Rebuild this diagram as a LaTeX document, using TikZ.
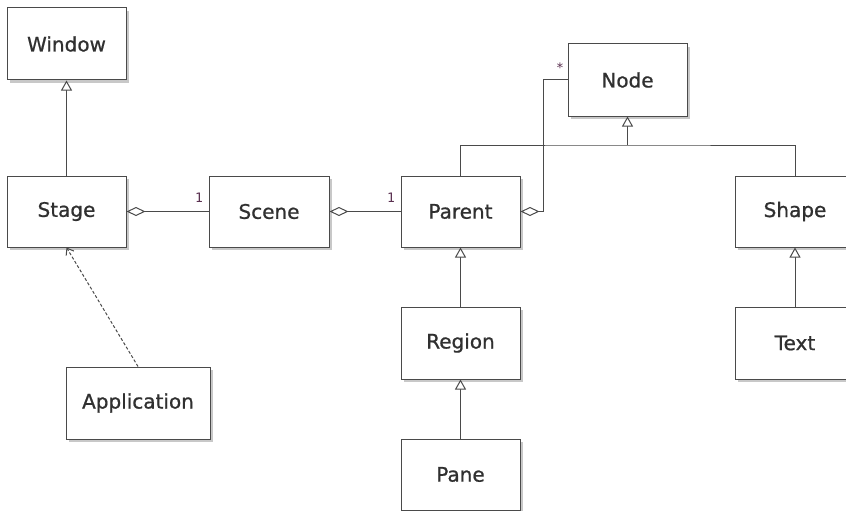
\documentclass[tikz,border=0pt]{standalone}
\usepackage{fontspec}
\setmainfont{DejaVu Sans}
\newfontfamily\clsfont[FakeBold=0.8]{DejaVu Sans}
\newfontfamily\labfont{DejaVu Sans Mono}
\usetikzlibrary{arrows.meta,calc}
\definecolor{boxline}{HTML}{4A4A4A}
\definecolor{shadowc}{HTML}{C8C8C8}
\definecolor{txt}{HTML}{303030}
\definecolor{labc}{HTML}{5A3050}
\tikzset{
  cls/.style={draw=boxline, line width=1pt, fill=white, minimum width=119pt, minimum height=72pt,
    inner sep=0pt, text=txt, font=\clsfont\fontsize{20}{24}\selectfont},
  conn/.style={draw=boxline, line width=1pt},
  gen/.style={conn, -{Triangle[open, length=10pt, width=11pt, fill=white]}},
  agg/.style={conn, {Diamond[open, length=19pt, width=9pt, fill=white]}-},
  dep/.style={conn, dashed, dash pattern=on 3pt off 2pt, -{Straight Barb[length=6pt, width=9pt]}},
  mult/.style={text=labc, font=\labfont\fontsize{13}{14}\selectfont, inner sep=0pt},
}
\begin{document}
\begin{tikzpicture}[x=1pt,y=-1pt]
\useasboundingbox (0,0) rectangle (846,511);
\fill[white] (0,0) rectangle (846,511);
% shadows
\foreach \cx/\cy/\w/\h in {66.5/44/119/72, 66.5/211.5/119/71, 269/211.5/120/71, 460.5/211.5/119/71,
  627.5/80/119/72, 795/211.5/120/71, 460.5/343/119/72, 795/343/120/72, 138/403/144/72, 460.5/474.5/119/71}
  {\fill[shadowc] (\cx-\w/2+3,\cy-\h/2+3) rectangle (\cx+\w/2+3,\cy+\h/2+3);}
% classes
\node[cls] (Window) at (66.5,44) {Window};
\node[cls, minimum height=71pt] (Stage) at (66.5,211.5) {Stage};
\node[cls, minimum width=120pt, minimum height=71pt] (Scene) at (269,211.5) {Scene};
\node[cls, minimum height=71pt] (Parent) at (460.5,211.5) {Parent};
\node[cls] (Node) at (627.5,80) {Node};
\node[cls, minimum width=120pt, minimum height=71pt] (Shape) at (795,211.5) {Shape};
\node[cls] (Region) at (460.5,343) {Region};
\node[cls, minimum width=120pt] (Text) at (795,343) {Text};
\node[cls, minimum width=144pt] (Application) at (138,403) {Application};
\node[cls, minimum height=71pt] (Pane) at (460.5,474.5) {Pane};
% generalizations
\draw[gen] (Stage.north) -- (Window.south);
\draw[gen] (Region.north) -- (Parent.south);
\draw[gen] (Pane.north) -- (Region.south);
\draw[gen] (Text.north) -- (Shape.south);
\coordinate (join) at (Node.south |- 0,145);
\draw[conn] (Parent.north) |- (join) -| (Shape.north);
\draw[gen] (join) -- (Node.south);
% aggregations
\draw[agg] (Stage.east) -- (Scene.west);
\draw[agg] (Scene.east) -- (Parent.west);
\coordinate (bend) at ($(Parent.east)+(23,0)$);
\draw[agg] (Parent.east) -- (bend) |- (Node.west);
% dependency
\draw[dep] (Application.north) -- (Stage.south);
% multiplicities
\node[mult] (m1) at (199,198) {1};
\node[mult] (m2) at (391,198) {1};
\node[mult] (m3) at (560,68) {*};
\end{tikzpicture}
\end{document}
